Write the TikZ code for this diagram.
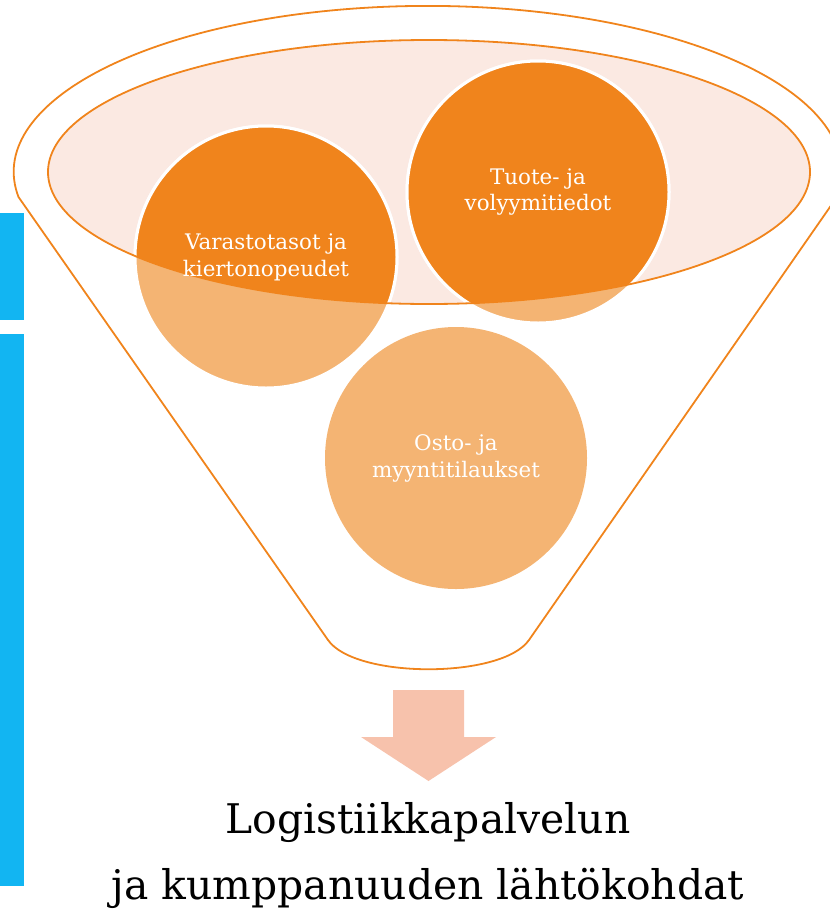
\documentclass[tikz,border=0pt]{standalone}
\usepackage{fontspec}
\setmainfont{DejaVu Serif}
\definecolor{funnelorange}{HTML}{F0841C}
\definecolor{lightorange}{HTML}{F4B473}
\definecolor{ellipsepink}{HTML}{FBE9E2}
\definecolor{arrowpink}{HTML}{F7C2AC}
\definecolor{barblue}{HTML}{12B5F2}
\begin{document}
\begin{tikzpicture}[x=1bp,y=-1bp,
    ball/.style={circle,minimum size=262bp,inner sep=0pt,fill=lightorange,draw=white,line width=3bp},
    balltext/.style={text=white,align=center,font=\fontsize{21.5}{27}\selectfont},
    titletext/.style={anchor=base,font=\fontsize{41}{50}\selectfont}]
    \useasboundingbox (0,0) rectangle (830,909);
    \clip (0,0) rectangle (830,909);
    %\draw[help lines,step=50] (0,0) grid (830,909);
    \fill[barblue] (0,213) rectangle (24,320);
    \fill[barblue] (0,334) rectangle (24,886);
    \draw[funnelorange,line width=1.8bp] (18.5,197) arc[start angle=171.3,end angle=368.7,x radius=414,y radius=166] -- (529,640) .. controls (502,679) and (355,679) .. (328,640) -- cycle;
    \fill[ellipsepink] (429,172) ellipse[x radius=381,y radius=132];
    \node[ball] (varasto) at (266,257) {};
    \node[ball] (tuote) at (538,192) {};
    \node[ball,draw=none] (osto) at (456,458) {};
    \begin{scope}
        \clip (429,172) ellipse[x radius=381,y radius=132];
        \filldraw[fill=funnelorange,draw=white,line width=3bp] (varasto.center) circle[radius=131];
        \filldraw[fill=funnelorange,draw=white,line width=3bp] (tuote.center) circle[radius=131];
    \end{scope}
    \draw[funnelorange,line width=1.8bp] (429,172) ellipse[x radius=381,y radius=132];
    \node[balltext] at (varasto.center) {Varastotasot ja\\kiertonopeudet};
    \node[balltext] at (tuote.center) {Tuote- ja\\volyymitiedot};
    \node[balltext] at (osto.center) {Osto- ja\\myyntitilaukset};
    \fill[arrowpink] (393,690) -- (464,690) -- (464,737) -- (496,737) -- (428.5,781) -- (361,737) -- (393,737) -- cycle;
    \node[titletext] (title1) at (428,833) {Logistiikkapalvelun};
    \node[titletext] (title2) at (428,899) {ja kumppanuuden lähtökohdat};
\end{tikzpicture}
\end{document}
